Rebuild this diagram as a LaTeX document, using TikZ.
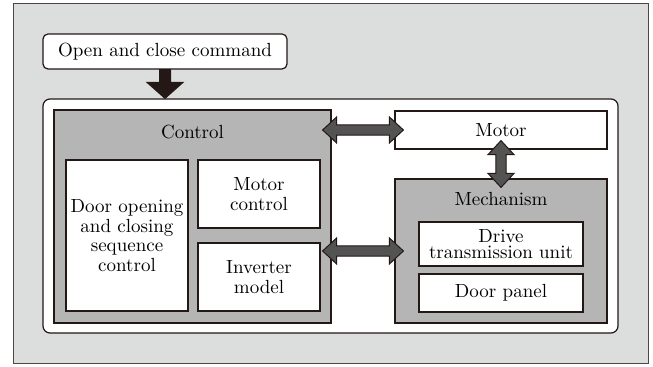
\documentclass[tikz,border=0pt]{standalone}
\usepackage{xcolor}
\usepackage{tikz}
\usetikzlibrary{positioning}
\usetikzlibrary{calc}
\pgfdeclarelayer{nodelayer}
\pgfdeclarelayer{edgelayer}
\pgfsetlayers{nodelayer,edgelayer,main}
\definecolor{bggray}{HTML}{DCDDDD}
\definecolor{boxgray}{HTML}{B5B5B6}
\definecolor{arrowgray}{HTML}{535353}
\definecolor{linecol}{HTML}{231815}

\tikzset{
    box/.style={draw=linecol, fill=white, line width=0.6pt, inner sep=0pt, align=center},
    graybox/.style={box, fill=boxgray},
    boxtitle/.style={inner sep=0pt},
    dblarrow/.style={fill=arrowgray, draw=linecol, line width=0.5pt, line join=miter,
        to path={
            ($(\tikztostart)!-4.5pt!(\tikztotarget)$) coordinate (as)
            ($(\tikztotarget)!-4.5pt!(\tikztostart)$) coordinate (at)
            ($(as)!7pt!(at)$) coordinate (ha)
            ($(at)!7pt!(as)$) coordinate (hb)
            (as) -- ($(ha)!6.5pt!90:(at)$) -- ($(ha)!2.6pt!90:(at)$)
            -- ($(hb)!2.6pt!-90:(as)$) -- ($(hb)!6.5pt!-90:(as)$)
            -- (at) -- ($(hb)!6.5pt!90:(as)$) -- ($(hb)!2.6pt!90:(as)$)
            -- ($(ha)!2.6pt!-90:(at)$) -- ($(ha)!6.5pt!-90:(at)$) -- cycle
        }},
    cmdarrow/.style={fill=linecol, draw=linecol, line width=0.5pt, line join=miter,
        to path={
            ($(\tikztotarget)!8pt!(\tikztostart)$) coordinate (hb)
            ($(\tikztostart)!2.75pt!90:(\tikztotarget)$) -- ($(hb)!2.75pt!-90:(\tikztostart)$)
            -- ($(hb)!9pt!-90:(\tikztostart)$) -- (\tikztotarget)
            -- ($(hb)!9pt!90:(\tikztostart)$) -- ($(hb)!2.75pt!90:(\tikztostart)$)
            -- ($(\tikztostart)!2.75pt!-90:(\tikztotarget)$) -- cycle
        }}
}

\begin{document}
\begin{tikzpicture}[x=0.5pt, y=-0.5pt, font=\fontsize{9.5}{9.8}\selectfont]
        \useasboundingbox (0,0) rectangle (653,367);
        \begin{pgfonlayer}{nodelayer}
            \draw [fill=bggray, draw=linecol!80, line width=0.5pt] (13,4) rectangle (648,364);
            \node [box, rounded corners=2.5pt, minimum width=122pt, minimum height=17.5pt] (0) at (165, 51.5) {Open and close command};
            \node [box, rounded corners=3.5pt, minimum width=287.5pt, minimum height=117pt] (1) at (330.5, 216) {};
            \node [graybox, minimum width=138.5pt, minimum height=106.5pt] (2) at (192.5, 216.5) {};
            \node [boxtitle] (3) at (192.5, 132) {Control};
            \node [box, minimum width=61pt, minimum height=75.5pt] (4) at (127, 235.5) {Door opening\\and closing\\sequence\\control};
            \node [box, minimum width=61pt, minimum height=34pt] (5) at (259, 194) {Motor\\control};
            \node [box, minimum width=61pt, minimum height=34pt] (6) at (259, 277) {Inverter\\model};
            \node [box, minimum width=106pt, minimum height=19pt] (7) at (501, 130) {Motor};
            \node [graybox, minimum width=106pt, minimum height=72pt] (8) at (501, 251) {};
            \node [boxtitle] (9) at (501, 199) {Mechanism};
            \node [box, minimum width=82pt, minimum height=22pt, font=\fontsize{9.5}{8}\selectfont] (10) at (501, 244) {Drive\\transmission unit};
            \node [box, minimum width=82pt, minimum height=19pt] (11) at (501, 293) {Door panel};
        \end{pgfonlayer}
        \begin{pgfonlayer}{edgelayer}
            \draw [cmdarrow] (0.south) to (0.south |- 1.north);
            \draw [dblarrow] (2.east |- 7.west) to (7.west);
            \draw [dblarrow] (7.south) to (8.north);
            \draw [dblarrow] (2.east |- 8.west) to (8.west);
        \end{pgfonlayer}
    \end{tikzpicture}
\end{document}
